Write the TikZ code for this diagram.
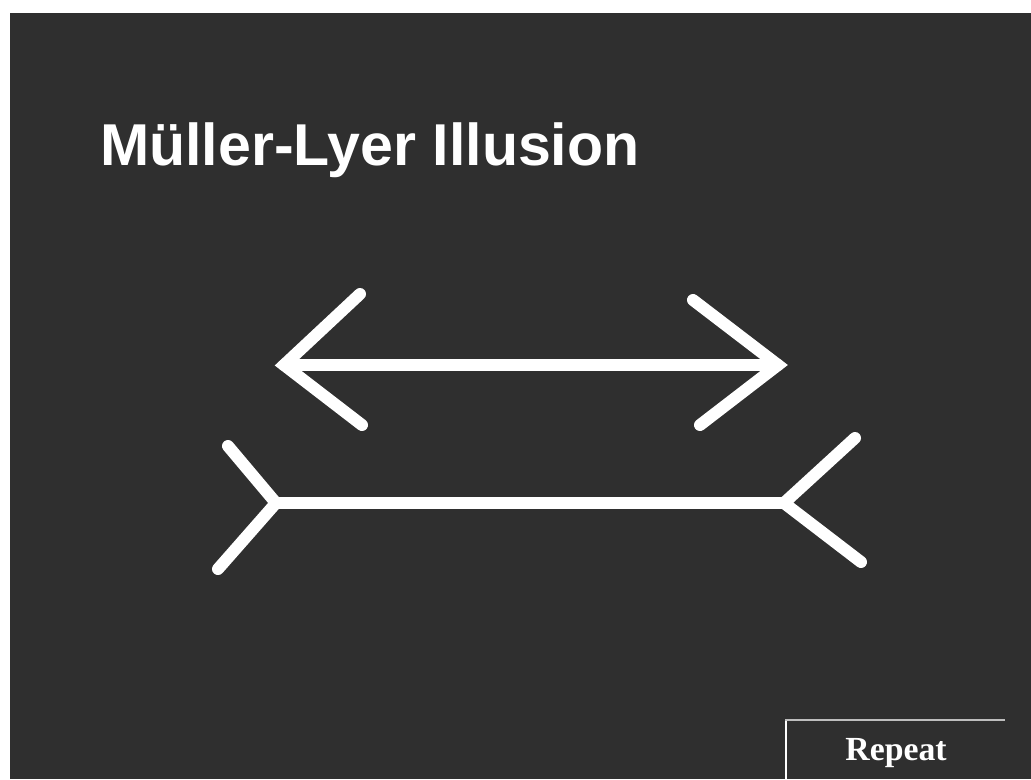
\documentclass[tikz,border=0pt]{standalone}
\usepackage{fontspec}
\setmainfont{Liberation Serif}
\setsansfont{Liberation Sans}
\usepackage{tikz}
\usetikzlibrary{calc,positioning}

\definecolor{sfondo}{RGB}{47,47,47}
\definecolor{bordo}{RGB}{190,190,190}

\tikzset{
    freccia/.style={line width=0.3cm, white, line cap=round, line join=miter},
    titolo/.style={font=\sffamily\bfseries\fontsize{42}{50}\selectfont, text=white, inner sep=0pt},
    pulsante/.style={font=\rmfamily\bfseries\fontsize{24}{28}\selectfont, text=white, inner sep=0pt},
}

\begin{document}
\begin{tikzpicture}[x=0.025cm, y=-0.025cm]
    % Sfondo
    \useasboundingbox (0,0) rectangle (1031,779);
    \fill[sfondo] (10,13) rectangle (1031,779);

    % Titolo
    \node[titolo, anchor=base west] (title) at (100,165) {Müller-Lyer Illusion};

    % Freccia con punte verso l'esterno
    \coordinate (aSx) at (284,365);
    \coordinate (aDx) at (778,365);
    \draw[freccia] (aSx) -- (aDx);
    \draw[freccia] (360,294) -- (aSx) -- (362,425);
    \draw[freccia] (693,300) -- (aDx) -- (700,425);

    % Freccia con punte verso l'interno
    \coordinate (bSx) at (276,503);
    \coordinate (bDx) at (784,503);
    \draw[freccia] (bSx) -- (bDx);
    \draw[freccia] (228,446) -- (bSx) -- (218,569);
    \draw[freccia] (855,438) -- (bDx) -- (861,562);

    % Pulsante
    \draw[bordo, line width=1.2pt] (786,779) -- (786,720) -- (1005,720);
    \draw[white, line width=1.6pt] (786,779) -- (786,721);
    \node[pulsante, anchor=base] (repeat) at (896,760) {Repeat};
\end{tikzpicture}
\end{document}
